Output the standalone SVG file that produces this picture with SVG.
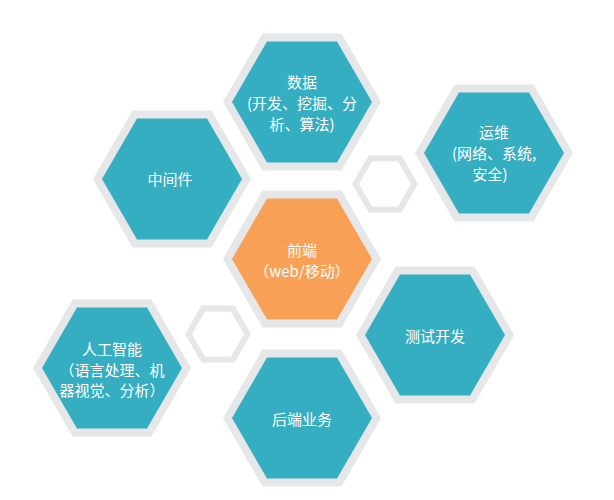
<svg xmlns="http://www.w3.org/2000/svg" xmlns:xlink="http://www.w3.org/1999/xlink" width="614" height="500" viewBox="0 0 614 500">
<style>
.halo{fill:#e6e7e8}
.teal{fill:#35aec2}
.orange{fill:#f8a156}
.white{fill:#ffffff}
.t{font-family:"Noto Sans CJK SC","Noto Sans",sans-serif;font-size:15px;fill:#ffffff;text-anchor:middle}
</style>
<defs>
<polygon id="hexO" points="79,0 39.5,68.4 -39.5,68.4 -79,0 -39.5,-68.4 39.5,-68.4"/>
<polygon id="hexI" points="70,0 35,60.6 -35,60.6 -70,0 -35,-60.6 35,-60.6"/>
<polygon id="smO" points="33,0 16.5,28.6 -16.5,28.6 -33,0 -16.5,-28.6 16.5,-28.6"/>
<polygon id="smI" points="26,0 13,22.5 -13,22.5 -26,0 -13,-22.5 13,-22.5"/>
</defs>
<rect width="614" height="500" fill="#ffffff"/>
<g id="connectors"></g>
<g id="ring1" transform="translate(385,184)">
<use xlink:href="#smO" class="halo"/>
<use xlink:href="#smI" class="white"/>
</g>
<g id="ring2" transform="translate(218,334)">
<use xlink:href="#smO" class="halo"/>
<use xlink:href="#smI" class="white"/>
</g>
<g id="node-data" transform="translate(302,102)">
<use xlink:href="#hexO" class="halo"/>
<use xlink:href="#hexI" class="teal"/>
<text class="t" x="0" y="-14">数据</text>
<text class="t" x="0" y="7">(开发、挖掘、分</text>
<text class="t" x="0" y="28">析、算法)</text>
</g>
<g id="node-middleware" transform="translate(172,179)">
<use xlink:href="#hexO" class="halo"/>
<use xlink:href="#hexI" class="teal"/>
<text class="t" x="-2" y="6">中间件</text>
</g>
<g id="node-ops" transform="translate(494,153)">
<use xlink:href="#hexO" class="halo"/>
<use xlink:href="#hexI" class="teal"/>
<text class="t" x="0" y="-15">运维</text>
<text class="t" x="0" y="6">(网络、系统,</text>
<text class="t" x="-4" y="27">安全)</text>
</g>
<g id="node-frontend" transform="translate(302,259)">
<use xlink:href="#hexO" class="halo"/>
<use xlink:href="#hexI" class="orange"/>
<text class="t" x="0" y="-3">前端</text>
<text class="t" x="0" y="18">（web/移动）</text>
</g>
<g id="node-test" transform="translate(435,335)">
<use xlink:href="#hexO" class="halo"/>
<use xlink:href="#hexI" class="teal"/>
<text class="t" x="0" y="7">测试开发</text>
</g>
<g id="node-ai" transform="translate(112,368)">
<use xlink:href="#hexO" class="halo"/>
<use xlink:href="#hexI" class="teal"/>
<text class="t" x="0" y="-13">人工智能</text>
<text class="t" x="0" y="8">（语言处理、机</text>
<text class="t" x="0" y="28">器视觉、分析）</text>
</g>
<g id="node-backend" transform="translate(302,418)">
<use xlink:href="#hexO" class="halo"/>
<use xlink:href="#hexI" class="teal"/>
<text class="t" x="0" y="7">后端业务</text>
</g>
</svg>
